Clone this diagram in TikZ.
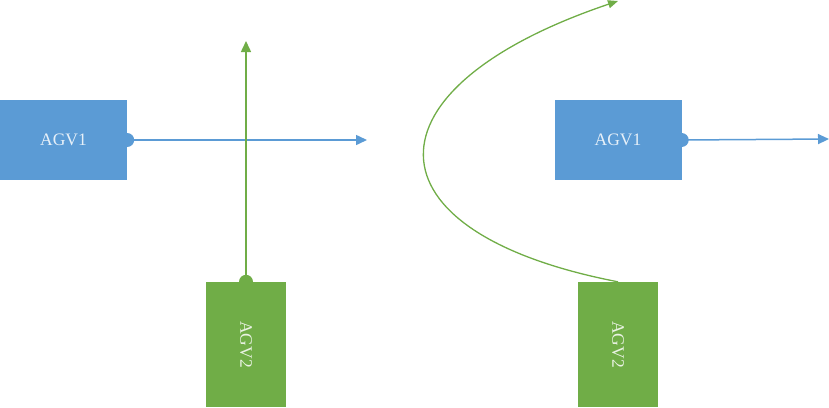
\documentclass[tikz,border=0pt]{standalone}
\usepackage{fontspec}
\setmainfont{Liberation Serif}
\usetikzlibrary{arrows.meta}
\definecolor{agvblue}{HTML}{5B9BD5}
\definecolor{agvgreen}{HTML}{70AD47}
\begin{document}
\begin{tikzpicture}[x=1pt,y=-1pt,
  bluebox/.style={fill=agvblue,draw=none,minimum width=127pt,minimum height=80pt,inner sep=0pt,
    text=white,text opacity=0.85,font=\fontsize{17.5}{17.5}\selectfont},
  greenbox/.style={fill=agvgreen,draw=none,minimum width=80pt,minimum height=125pt,inner sep=0pt,
    text=white,text opacity=0.85,font=\fontsize{17.5}{17.5}\selectfont},
  blueline/.style={draw=agvblue,line width=1.5pt,-{Triangle[length=11pt,width=10pt]}},
  greenline/.style={draw=agvgreen,line width=1.5pt,-{Triangle[length=11pt,width=10pt]}},
  bluedot/.style={fill=agvblue,circle,inner sep=0pt,minimum size=14pt},
  greendot/.style={fill=agvgreen,circle,inner sep=0pt,minimum size=14pt}]
\useasboundingbox (0,0) rectangle (829,407);
% left scene
\node[bluebox] (a1) at (63.5,140) {AGV1};
\node[greenbox] (a2) at (246,344.5) {\rotatebox{-90}{AGV2}};
\coordinate (a1end) at (367,140);
\coordinate (a2end) at (246,41);
\draw[blueline] (a1.east) -- (a1end);
\draw[greenline] (a2.north) -- (a2end);
\node[bluedot] (d1) at (a1.east) {};
\node[greendot] (d2) at (a2.north) {};
% right scene
\node[bluebox] (b1) at (618,140) {AGV1};
\node[greenbox] (b2) at (618,344.5) {\rotatebox{-90}{AGV2}};
\coordinate (b1end) at (829,139);
\coordinate (b2end) at (618,1);
\draw[blueline] (b1.east) -- (b1end);
\node[bluedot] (d3) at (b1.east) {};
\draw[draw=agvgreen,line width=1.3pt,-{Triangle[length=10pt,width=8pt]}] (b2.north) .. controls (360,232) and (360,88) .. (b2end);
\end{tikzpicture}
\end{document}
